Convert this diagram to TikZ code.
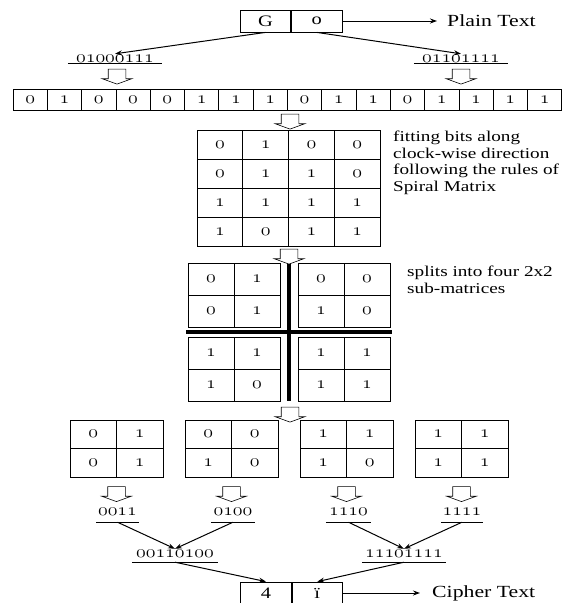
\documentclass[tikz,border=0pt]{standalone}
\usepackage{fontspec}
\usepackage{graphicx}
\setmainfont{Liberation Serif}[FakeStretch=1.28]
\usetikzlibrary{positioning,shapes.arrows,arrows.meta}
\newcommand\oldbits[1]{\scalebox{1.15}[1]{\usefont{OML}{cmm}{m}{it}#1}}

\begin{document}
\begin{tikzpicture}[x=1pt, y=-1pt, >={Stealth[length=7pt,width=5pt]}, node distance=4pt,
  every node/.style={font=\fontsize{15}{16.5}\selectfont},
  charbox/.style={draw, line width=0.8pt, minimum width=50.5pt, minimum height=22pt, inner sep=0pt, font=\fontsize{16}{16}\selectfont},
  cell/.style={draw, line width=0.8pt, minimum width=45.75pt, minimum height=29pt, inner sep=0pt, font=\fontsize{17}{17}\selectfont},
  bitcell/.style={cell, minimum width=34.3pt, minimum height=21pt},
  subcell/.style={cell, minimum width=46pt, minimum height=32pt},
  quadcell/.style={cell, minimum width=46.5pt, minimum height=28.5pt},
  bits/.style={inner sep=0pt, anchor=base, text height=8pt, text depth=1pt, font=\fontsize{18}{18}\selectfont,
    append after command={(\tikzlastnode.south west) edge[line width=0.8pt] (\tikzlastnode.south east)}},
  hollow/.style={single arrow, draw, line width=0.6pt, shape border rotate=270, minimum height=15pt,
    inner xsep=8.5pt, inner ysep=0pt, single arrow head extend=6pt, single arrow tip angle=140, single arrow head indent=0pt},
  note/.style={align=left, anchor=north west, inner sep=0pt},
  tag/.style={anchor=west, inner ysep=0pt, font=\fontsize{17}{17}\selectfont},
  link/.style={->, line width=1pt}]
\useasboundingbox (0,0) rectangle (563,603);

% plain text
\node[charbox] (pG) at (265.5,21) {G};
\node[charbox, right=0pt of pG] (po) {o};
\node[tag, inner xsep=10pt] (plaintxt) at (437,21) {Plain Text};
\draw[link] (po) -- (plaintxt);

\node[bits, minimum width=94pt] (lblG) at (115,62) {\oldbits{01000111}};
\node[bits, minimum width=94pt] (lblO) at (461,62) {\oldbits{01101111}};
\draw[link] (pG.south) -- (lblG.north);
\draw[link] (po.south) -- (lblO.north);
\node[hollow] (h1) at (117,75) {};
\node[hollow] (h2) at (461,75) {};

% bit row
\foreach \b [count=\i] in {0,1,0,0,0,1,1,1,0,1,1,0,1,1,1,1}
  \node[bitcell] (r\i) at ({13+34.3*(\i-0.5)},99.5) {\oldbits{\b}};
\node[hollow] (h3) at (290,120) {};

% spiral matrix
\foreach \row [count=\r] in {{0,1,0,0},{0,1,1,0},{1,1,1,1},{1,0,1,1}}
  \foreach \b [count=\c] in \row
    \node[cell] (m\r\c) at ({197+45.75*(\c-0.5)},{130+29*(\r-0.5)}) {\oldbits{\b}};
\node[note] (fitnote) at (393,131) {fitting bits along\\clock-wise direction\\following the rules of\\Spiral Matrix};
\node[hollow] (h4) at (289,255) {};

% split into blocks
\foreach \blk/\bx/\by/\vals in {a/188/263/{0,1,0,1}, b/298/263/{0,0,1,0}, c/188/337/{1,1,1,0}, d/298/337/{1,1,1,1}}
  \foreach \v [count=\k from 0] in \vals
    \node[subcell] (s\blk\k) at ({\bx+46*(mod(\k,2)+0.5)},{\by+32*(int(\k/2)+0.5)}) {\oldbits{\v}};
\draw[line width=4pt] (186,332) -- (392,332);
\draw[line width=4pt] (289,264) -- (289,401);
\node[note] (splitnote) at (407,266) {splits into four 2x2\\sub-matrices};
\node[hollow] (h5) at (290,413) {};

% sub-matrices
\foreach \q/\bx/\vals in {1/70/{0,1,0,1}, 2/185/{0,0,1,0}, 3/300/{1,1,1,0}, 4/415/{1,1,1,1}} {
  \foreach \v [count=\k from 0] in \vals
    \node[quadcell] (q\q\k) at ({\bx+46.5*(mod(\k,2)+0.5)},{420+28.5*(int(\k/2)+0.5)}) {\oldbits{\v}};
  \node[hollow] (hq\q) at ({\bx+46.5},492.5) {};
}

\node[bits, minimum width=42pt, text depth=7pt] (w1) at (117.5,515) {\oldbits{0011}};
\node[bits, minimum width=44pt, text depth=7pt] (w2) at (233,515) {\oldbits{0100}};
\node[bits, minimum width=45pt, text depth=7pt] (w3) at (348.5,515) {\oldbits{1110}};
\node[bits, minimum width=42pt, text depth=7pt] (w4) at (462,515) {\oldbits{1111}};
\node[bits, minimum width=86pt, text depth=5pt] (c1) at (175,557) {\oldbits{00110100}};
\node[bits, minimum width=84pt, text depth=5pt] (c2) at (404,557) {\oldbits{11101111}};
\draw[link] (w1.south) -- (c1.north);
\draw[link] (w2.south) -- (c1.north);
\draw[link] (w3.south) -- (c2.north);
\draw[link] (w4.south) -- (c2.north);

% cipher text
\node[charbox] (k4) at (266,593) {4};
\node[charbox, right=0pt of k4] (ki) {ï};
\draw[link] (c1.south) -- (k4.north);
\draw[link] (c2.south) -- (ki.north);
\node[tag, inner xsep=12pt] (ciphertxt) at (420,593) {Cipher Text};
\draw[link] (ki) -- (ciphertxt);
\end{tikzpicture}
\end{document}
